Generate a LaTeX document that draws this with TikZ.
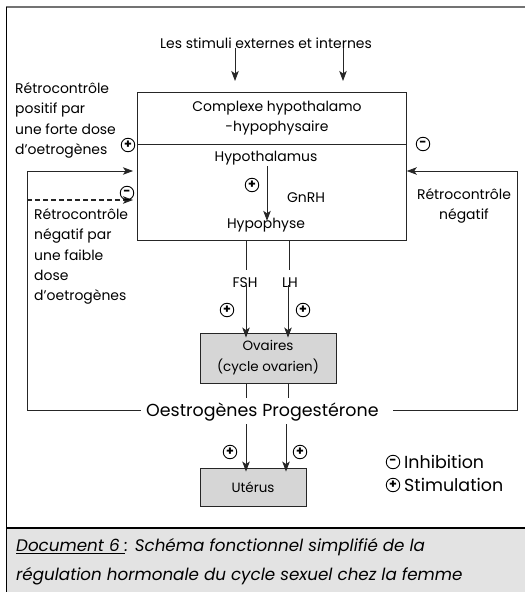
\documentclass[tikz,border=0pt]{standalone}
\usepackage{fontspec}
\setmainfont{Poppins}
\usetikzlibrary{arrows.meta}
\begin{document}
\begin{tikzpicture}[x=1bp,y=-1bp,
  lbl/.style={inner sep=0pt, font=\fontsize{14}{20.5}\selectfont},
  big/.style={inner sep=0pt, font=\fontsize{17.5}{22}\selectfont},
  sign/.style={circle, draw=black, line width=0.9bp, minimum size=13.5bp, inner sep=0pt,
               font=\fontsize{12.5}{12.5}\selectfont\bfseries},
  wire/.style={draw=black!85, line width=0.8bp},
  arr/.style={wire, -{Stealth[length=10bp,width=7.5bp,inset=2.5bp]}},
  organ/.style={draw=black!85, fill=black!16, line width=0.9bp, inner sep=0pt,
                align=center, font=\fontsize{13.5}{21}\selectfont}
]
\useasboundingbox (0,0) rectangle (525,592);

% frame and caption band
\fill[black!11] (6,528) rectangle (525,592);
\draw[black!55, line width=1.6bp] (6,7) -- (525,7);
\draw[black, line width=1bp] (6,7) -- (6,592);
\draw[black, line width=1.2bp] (6,528) -- (525,528);

% stimuli
\node[lbl] (stim) at (266,43) {Les stimuli externes et internes};
\coordinate (s1) at (235,81);
\coordinate (s2) at (343,81);
\draw[arr] ([yshift=1]stim.south -| s1) -- (s1);
\draw[arr] ([yshift=1]stim.south -| s2) -- (s2);

% hypothalamo-pituitary complex
\node[wire, draw, anchor=north west, minimum width=269bp, minimum height=148bp, inner sep=0pt]
  (hh) at (137,92) {};
\coordinate (div) at (0,144);
\draw[wire] (hh.west |- div) -- (hh.east |- div);
\node[lbl, align=center] (cx) at (277,118) {Complexe hypothalamo\\-hypophysaire};
\node[lbl] (hyt) at (266,158) {Hypothalamus};
\node[lbl] (hyp) at (266,225) {Hypophyse};
\draw[arr] ([xshift=1]hyt.south) ++(0,1) -- ([xshift=1,yshift=-3]hyp.north);
\node[sign] (p0) at (252,185) {+};
\node[lbl] (gnrh) at (306,198) {GnRH};

% pituitary hormones
\node[lbl] (fsh) at (245,283) {FSH};
\node[lbl] (lh) at (290,283) {LH};
\draw[wire] (hh.south -| 246,0) -- (246,270);
\draw[wire] (hh.south -| 289,0) -- (289,270);
\node[organ, minimum width=136bp, minimum height=50bp] (ov) at (268,358)
  {Ovaires\\(cycle ovarien)};
\draw[arr] ([yshift=3]fsh.south -| 246,0) -- ([yshift=-5]ov.north -| 246,0);
\draw[arr] ([yshift=3]lh.south -| 288,0) -- ([yshift=-5]ov.north -| 288,0);
\node[sign] (p1) at (227,310) {+};
\node[sign] (p2) at (303,310) {+};

% ovarian hormones
\node[big, anchor=base west] (oes) at (146,416) {Oestrogènes};
\node[big, anchor=base west] (pro) at ([xshift=4.5]oes.base east) {Progestérone};
\draw[wire] (ov.south -| 246,0) -- ++(0,15);
\draw[wire] (ov.south -| 288,0) -- ++(0,15);
\node[organ, minimum width=106bp, minimum height=38bp] (ut) at (253,487) {Utérus};
\draw[arr] (246,424) -- ([yshift=-4]ut.north -| 246,0);
\draw[arr] (286,424) -- ([yshift=-4]ut.north -| 286,0);
\node[sign] (p3) at (230,452) {+};
\node[sign] (p4) at (300,452) {+};

% feedback loops
\coordinate (ls) at (141,410);
\coordinate (lc) at (27,171);
\coordinate (rs) at (393,410);
\coordinate (rc) at (517,171);
\draw[arr, shorten >=4bp] (ls) -| (lc) -- (hh.west |- lc);
\draw[arr] (rs) -| (rc) -- (hh.east |- rc);
\draw[arr, dashed, line width=1.4bp, dash pattern=on 5bp off 3bp, shorten >=4bp]
  (27,200) -- (hh.west |- 0,200);

\node[lbl, align=left, anchor=west] (pos) at (15,120.5)
  {Rétrocontrôle\\positif par\\une forte dose\\d’oetrogènes};
\node[sign] (p5) at (128,145) {+};
\node[sign] (m1) at (127,193) {-};
\node[lbl, align=left, anchor=west] (neg) at (34,256.5)
  {Rétrocontrôle\\négatif par\\une faible\\dose\\d’oetrogènes};
\node[sign] (m2) at (423,144) {-};
\node[lbl, align=center] (negr) at (464,206) {Rétrocontrôle\\négatif};

% legend
\node[sign] (lm) at (393,462) {-};
\node[big, anchor=west] (inh) at (404,462) {Inhibition};
\node[sign] (lp) at (393,485) {+};
\node[big, anchor=west] (sti) at (404,485) {Stimulation};

% caption
\node[inner sep=0pt, anchor=west, align=left, font=\fontsize{16.8}{29}\selectfont\itshape]
  (cap) at (16,561.5)
  {\underline{Document 6\ }: Schéma fonctionnel simplifié de la\\
   régulation hormonale du cycle sexuel chez la femme};
\end{tikzpicture}
\end{document}
